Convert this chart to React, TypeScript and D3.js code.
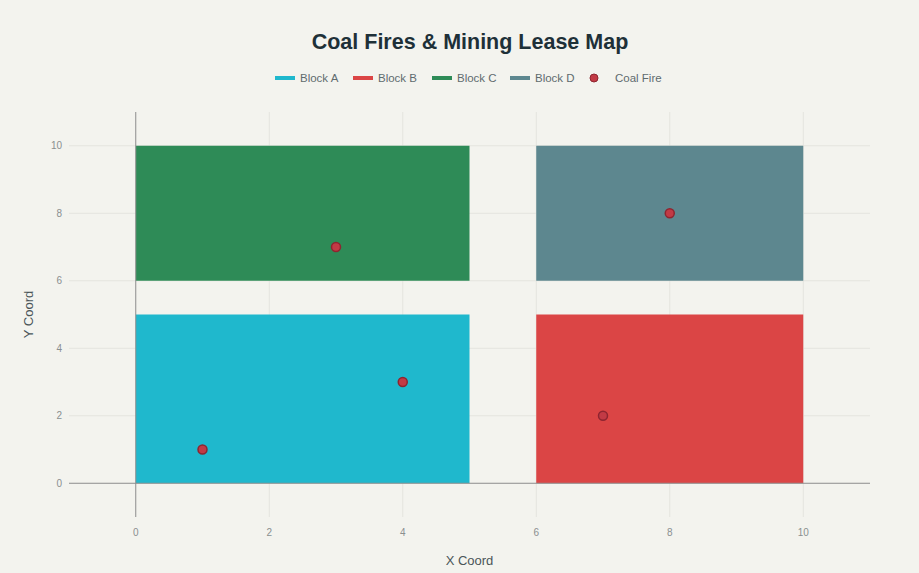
import React from "react";
import * as d3 from "d3";

const W = 919;
const H = 573;

// Lease blocks: name, x-range, y-range
const blockNames = ["Block A", "Block B", "Block C", "Block D"];
const blockX0 = [0, 6, 0, 6];
const blockX1 = [5, 10, 5, 10];
const blockY0 = [0, 0, 6, 6];
const blockY1 = [5, 5, 10, 10];
const blockColors = ["#1FB8CD", "#DB4545", "#2E8B57", "#5D878F"];

// Coal fire locations
const fireX = [1, 4, 3, 8, 7];
const fireY = [1, 3, 7, 8, 2];

const xTicks = [0, 2, 4, 6, 8, 10];
const yTicks = [0, 2, 4, 6, 8, 10];

const margin = { left: 69, right: 49, top: 112, bottom: 56 };

export default function App() {
  const x = d3.scaleLinear().domain([-1, 11]).range([margin.left, W - margin.right]);
  const y = d3.scaleLinear().domain([-1, 11]).range([H - margin.bottom, margin.top]);
  const font = "'Liberation Sans', Arial, sans-serif";

  const legendItems = [
    ...blockNames.map((n, i) => ({ label: n, color: blockColors[i], kind: "line" })),
    { label: "Coal Fire", color: "#C23A45", kind: "marker" },
  ];
  const legendX = [275, 353, 432, 510, 594];

  return (
    <div style={{ position: "absolute", left: 0, top: 0 }}>
      <svg width={W} height={H} style={{ display: "block", background: "#F3F3EE" }}>
        <rect width={W} height={H} fill="#F3F3EE" />
        <text
          x={470}
          y={49}
          textAnchor="middle"
          fontFamily={font}
          fontWeight={700}
          fontSize={21.5}
          fill="#1E3038"
        >
          Coal Fires &amp; Mining Lease Map
        </text>

        {/* legend */}
        {legendItems.map((it, i) => (
          <g key={it.label} transform={`translate(${legendX[i]},78)`}>
            {it.kind === "line" ? (
              <line x1={0} x2={20} y1={0} y2={0} stroke={it.color} strokeWidth={4} />
            ) : (
              <circle cx={0} cy={0} r={4} fill={it.color} stroke="#8E2530" strokeWidth={1} />
            )}
            <text
              x={it.kind === "line" ? 25 : 21}
              y={4}
              fontFamily={font}
              fontSize={11.5}
              fill="#5F6B6E"
            >
              {it.label}
            </text>
          </g>
        ))}

        {/* grid */}
        {xTicks.filter((t) => t !== 0).map((t) => (
          <line key={"gx" + t} x1={x(t)} x2={x(t)} y1={margin.top} y2={H - margin.bottom} stroke="#E4E4DE" strokeWidth={1} />
        ))}
        {yTicks.filter((t) => t !== 0).map((t) => (
          <line key={"gy" + t} x1={margin.left} x2={W - margin.right} y1={y(t)} y2={y(t)} stroke="#E4E4DE" strokeWidth={1} />
        ))}

        {/* blocks */}
        {blockNames.map((n, i) => (
          <rect
            key={n}
            x={x(blockX0[i])}
            y={y(blockY1[i])}
            width={x(blockX1[i]) - x(blockX0[i])}
            height={y(blockY0[i]) - y(blockY1[i])}
            fill={blockColors[i]}
          />
        ))}

        {/* zero lines */}
        <line x1={x(0)} x2={x(0)} y1={margin.top} y2={H - margin.bottom} stroke="#8C8C8C" strokeWidth={1} />
        <line x1={margin.left} x2={W - margin.right} y1={y(0)} y2={y(0)} stroke="#8C8C8C" strokeWidth={1} />

        {/* fires */}
        {fireX.map((fx, i) => (
          <circle key={"f" + i} cx={x(fx)} cy={y(fireY[i])} r={4.5} fill="#C23A45" stroke="#8E2530" strokeWidth={1.5} />
        ))}

        {/* tick labels */}
        {xTicks.map((t) => (
          <text key={"tx" + t} x={x(t)} y={536} textAnchor="middle" fontFamily={font} fontSize={10} fill="#8A8F90">
            {t}
          </text>
        ))}
        {yTicks.map((t) => (
          <text key={"ty" + t} x={62} y={y(t) + 3.5} textAnchor="end" fontFamily={font} fontSize={10} fill="#8A8F90">
            {t}
          </text>
        ))}

        {/* axis titles */}
        <text x={(margin.left + W - margin.right) / 2} y={565} textAnchor="middle" fontFamily={font} fontSize={13} fill="#4A5558">
          X Coord
        </text>
        <text
          transform={`translate(33,${(margin.top + H - margin.bottom) / 2}) rotate(-90)`}
          textAnchor="middle"
          fontFamily={font}
          fontSize={13}
          fill="#4A5558"
        >
          Y Coord
        </text>
      </svg>
    </div>
  );
}
